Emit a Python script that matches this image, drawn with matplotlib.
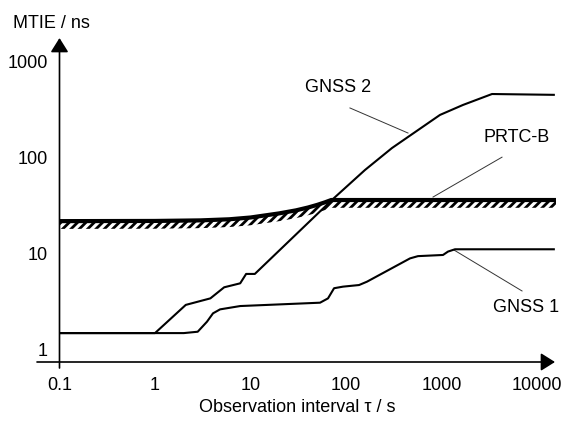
import matplotlib
matplotlib.use("Agg")
import matplotlib.pyplot as plt

plt.rcParams['font.family'] = ['Liberation Sans', 'DejaVu Sans']
plt.rcParams['hatch.linewidth'] = 2.0

# ---- data ----
prtc_tau = [0.1, 1, 3, 6, 10, 20, 30, 40, 50, 60, 70, 15800]
prtc_mtie = [22, 22.1, 22.4, 23.0, 24.0, 26.5, 28.5, 30.5, 32.5, 34.5, 36.5, 36.5]

gnss2_tau = [0.1, 1.0, 2.1, 3.8, 5.3, 7.8, 9.0, 11.1, 73, 158, 303, 964, 1679, 3380, 15000]
gnss2_mtie = [1.5, 1.5, 2.95, 3.45, 4.5, 4.95, 6.2, 6.2, 37.4, 75, 127, 281, 357, 464, 455]

gnss1_tau = [0.1, 2.0, 2.8, 3.5, 4.05, 4.8, 7.8, 53.5, 64.8, 75, 93, 137, 166, 468, 567,
             1037, 1170, 1384, 15000]
gnss1_mtie = [1.5, 1.5, 1.55, 1.97, 2.41, 2.65, 2.87, 3.11, 3.45, 4.4, 4.57, 4.75, 5.15,
              9.0, 9.5, 9.77, 10.6, 11.2, 11.2]

x_ticks = [0.1, 1, 10, 100, 1000, 10000]
x_tick_labels = ['0.1', '1', '10', '100', '1000', '10000']
y_ticks = [1, 10, 100, 1000]
y_tick_labels = ['1', '10', '100', '1000']

FS = 13
fig = plt.figure(figsize=(5.63, 4.21), dpi=100)
ax = fig.add_axes([59.5 / 563, 59 / 421, (556 - 59.5) / 563, (362 - 38) / 421])
ax.set_xscale('log')
ax.set_yscale('log')
xmin, xmax = 0.1, 10 ** (-1 + (556 - 59.5) / 95.5)
ymin, ymax = 10 ** (-12 / 96), 10 ** (312 / 96)
ax.set_xlim(xmin, xmax)
ax.set_ylim(ymin, ymax)
for s in ax.spines.values():
    s.set_visible(False)

ax.set_xticks(x_ticks)
ax.set_xticklabels(x_tick_labels, fontsize=FS)
ax.set_yticks(y_ticks)
ax.set_yticklabels(y_tick_labels, fontsize=FS)
ax.minorticks_off()
ax.tick_params(axis='x', length=0, pad=11)
ax.tick_params(axis='y', length=0, pad=8.3)

# PRTC-B mask with hatching below
ax.plot(prtc_tau, prtc_mtie, color='black', lw=3.0, solid_capstyle='butt', zorder=3)
lower = [v * 0.83 for v in prtc_mtie]
ax.fill_between(prtc_tau, lower, prtc_mtie, facecolor='none', edgecolor='black',
                hatch='////', linewidth=0, zorder=2)

ax.plot(gnss2_tau, gnss2_mtie, color='black', lw=1.5, zorder=4)
ax.plot(gnss1_tau, gnss1_mtie, color='black', lw=1.5, zorder=4)

# labels and leader lines
ax.text(82.4, 549, 'GNSS 2', fontsize=FS, ha='center', va='center')
ax.plot([110, 446], [332, 182], color='#333333', lw=0.7)
ax.text(6180, 165, 'PRTC-B', fontsize=FS, ha='center', va='center')
ax.plot([4300, 815], [102, 39.2], color='#333333', lw=0.7)
ax.text(7670, 2.74, 'GNSS 1', fontsize=FS, ha='center', va='center')
ax.plot([1352, 6970], [11.0, 4.12], color='#333333', lw=0.7)

# axes with arrowheads
arrow = dict(arrowstyle='-|>,head_length=0.86,head_width=0.54', lw=1.2,
             color='black', shrinkA=0, shrinkB=0, mutation_scale=10)
ax.annotate('', xy=(0.1, ymax), xytext=(0.1, 10 ** (-18 / 96)),
            arrowprops=arrow, annotation_clip=False)
ax.annotate('', xy=(10 ** (-1 + (555 - 59.5) / 95.5), 10 ** (-12 / 96)),
            xytext=(10 ** (-1 + (37 - 59.5) / 95.5), 10 ** (-12 / 96)),
            arrowprops=arrow, annotation_clip=False)

fig.text(13 / 563, 1 - 23.5 / 421, 'MTIE / ns', fontsize=FS, ha='left', va='center')
fig.text(297 / 563, 1 - 408 / 421, 'Observation interval τ / s', fontsize=FS,
         ha='center', va='center')

fig.savefig('out.png', dpi=100)
